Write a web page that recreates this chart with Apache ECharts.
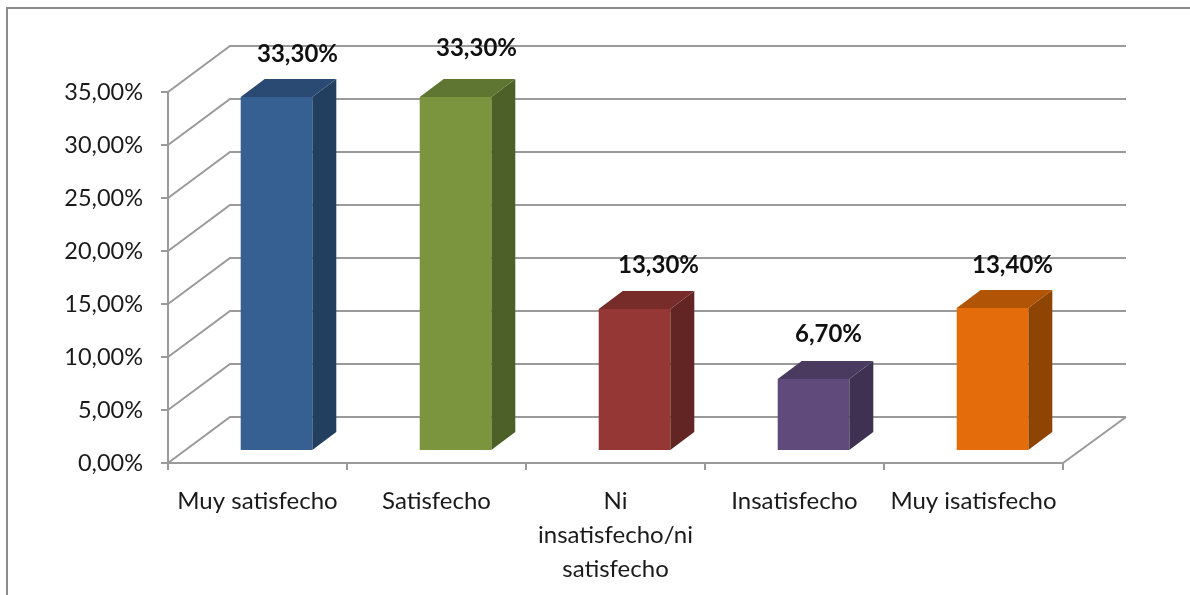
<!DOCTYPE html>
<html><head><meta charset="utf-8">
<style>html,body{margin:0;padding:0;background:#fff}#c{width:1190px;height:595px}</style>
<script src="https://cdn.jsdelivr.net/npm/echarts@6/dist/echarts.min.js"></script>
</head><body><div id="c"></div>
<script>
const categories = ['Muy satisfecho','Satisfecho','Ni\ninsatisfecho/ni\nsatisfecho','Insatisfecho','Muy isatisfecho'];
const values = [33.3,33.3,13.3,6.7,13.4];
const valueLabels = ['33,30%','33,30%','13,30%','6,70%','13,40%'];
const yTicks = [0,5,10,15,20,25,30,35];

// style only
const frontColors = ['#376092','#7a953d','#953735','#604a7b','#e46c0a'];
const topColors   = ['#2b4a73','#5e7631','#772c2a','#4a3a60','#b15405'];
const sideColors  = ['#233f60','#4d6027','#632523','#3f3151','#8e4403'];
const labelNudgeX = [21,21,24,15,20];
const labelNudgeY = [-43,-49,-44,-45,-43];
const FONT = 'Lato';
const GRID = '#9a9a9a';
const wall = [62,-46], inset = [19,-13], depth = [24,-18];

const chart = echarts.init(document.getElementById('c'),null,{renderer:'canvas'});
chart.setOption({
  animation:false,
  backgroundColor:'#fff',
  grid:{left:168,right:127,top:92,height:371,containLabel:false},
  xAxis:{type:'category',data:categories,
    axisLine:{lineStyle:{color:GRID,width:2}},
    axisTick:{show:true,alignWithLabel:false,length:7,lineStyle:{color:GRID,width:2}},
    axisLabel:{fontFamily:FONT,fontSize:24,color:'#1a1a1a',margin:21,lineHeight:34,interval:0},
    splitLine:{show:false}},
  yAxis:{type:'value',min:0,max:35,interval:5,
    axisLine:{show:true,lineStyle:{color:GRID,width:2}},
    axisTick:{show:true,length:7,lineStyle:{color:GRID,width:2}},
    axisLabel:{fontFamily:FONT,fontSize:23.5,color:'#1a1a1a',margin:25,padding:[4,0,0,0],
      formatter:v=>v.toFixed(2).replace('.',',')+'%'},
    splitLine:{show:false}},
  graphic:[{type:'polyline',z:0,silent:true,
    shape:{points:[[7,595],[7,8],[1190,8]]},
    style:{stroke:'#8c8c8c',lineWidth:2,fill:null}}],
  series:[
    {type:'custom',coordinateSystem:'cartesian2d',z:1,data:yTicks.map(t=>[0,t]),silent:true,
     encode:{x:0,y:1},
     renderItem(params,api){
       const v=api.value(1);
       const p=api.coord([0,v]);
       const s=params.coordSys;
       const x0=s.x, x1=s.x+s.width, y=p[1];
       const style={stroke:GRID,lineWidth:2,fill:null};
       const children=[
         {type:'polyline',shape:{points:[[x0,y],[x0+wall[0],y+wall[1]],[x1+wall[0]+1,y+wall[1]]]},style}
       ];
       if(v===0) children.push({type:'line',shape:{x1:x1,y1:y,x2:x1+wall[0]+1,y2:y+wall[1]},style});
       return {type:'group',children};
     }},
    {type:'custom',coordinateSystem:'cartesian2d',z:2,data:values.map((v,i)=>[i,v]),
     encode:{x:0,y:1},clip:false,
     renderItem(params,api){
       const i=params.dataIndex;
       const base=api.coord([i,0]), top=api.coord([i,api.value(1)]);
       const w=api.size([1,0])[0]*0.4;
       const xl=base[0]-w/2+inset[0], xr=xl+w, yb=base[1]+inset[1], yt=top[1]+inset[1];
       const dx=depth[0], dy=depth[1];
       return {type:'group',children:[
         {type:'polygon',shape:{points:[[xr,yt],[xr+dx,yt+dy],[xr+dx,yb+dy],[xr,yb]]},style:{fill:sideColors[i]}},
         {type:'polygon',shape:{points:[[xl,yt],[xl+dx,yt+dy],[xr+dx,yt+dy],[xr,yt]]},style:{fill:topColors[i]}},
         {type:'rect',shape:{x:xl,y:yt,width:w,height:yb-yt},style:{fill:frontColors[i]}},
         {type:'text',x:(xl+xr)/2+labelNudgeX[i],y:yt+labelNudgeY[i],z2:10,
          style:{text:valueLabels[i],fontFamily:FONT,fontSize:24,fontWeight:'bold',fill:'#111',align:'center',verticalAlign:'middle'}}
       ]};
     }}
  ]
});
</script></body></html>
